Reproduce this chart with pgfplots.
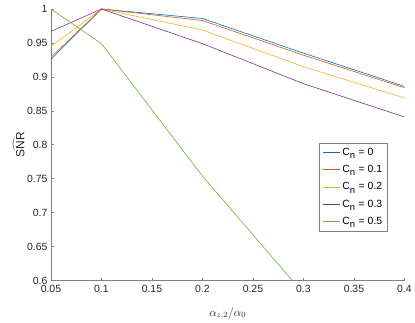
\documentclass[border=0pt]{standalone}
\usepackage{pgfplots}
\pgfplotsset{compat=1.18}
\usepackage{fontspec}
\setmainfont{Liberation Sans}
\definecolor{mblue}{rgb}{0,0.447,0.741}
\definecolor{morange}{rgb}{0.85,0.325,0.098}
\definecolor{myellow}{rgb}{0.929,0.694,0.125}
\definecolor{mpurple}{rgb}{0.494,0.184,0.556}
\definecolor{mgreen}{rgb}{0.466,0.674,0.188}
\definecolor{axgray}{rgb}{0.5,0.5,0.5}
\definecolor{txgray}{rgb}{0.15,0.15,0.15}
\newcommand{\Cn}{C\raisebox{-0.6ex}{\fontsize{9.5}{10}\selectfont n}\hspace{3.5bp}}
\begin{document}
\begin{tikzpicture}[x=1bp,y=1bp]
\path (-51,-41) rectangle (364,281);
\begin{axis}[
  at={(0,0)}, anchor=origin,
  scale only axis, width=354bp, height=272bp,
  xmin=0.05, xmax=0.4, ymin=0.6, ymax=1,
  xtick={0.05,0.1,...,0.4}, ytick={0.6,0.65,...,1},
  xticklabels={0.05,0.1,0.15,0.2,0.25,0.3,0.35,0.4},
  yticklabels={0.6,0.65,0.7,0.75,0.8,0.85,0.9,0.95,1},
  axis lines*=left,
  axis line style={axgray, line width=0.6pt},
  tick style={axgray, line width=0.6pt},
  tick align=inside, major tick length=3bp,
  ticklabel style={font=\fontsize{10.5}{12}\selectfont, text=txgray},
  xticklabel style={yshift=-1.5bp},
  /pgf/number format/assume math mode=true,
  xlabel={$\alpha_{z,2}/\alpha_0$},
  ylabel={$\widehat{\mbox{SNR}}$},
  label style={text=txgray, font=\fontsize{12}{14}\selectfont},
  xlabel style={at={(0.5,-0.085)}, anchor=north},
  ylabel style={at={(-0.065,0.5)}},
  clip=true,
  legend cell align=left,
  legend style={at={(0.952,0.507)}, anchor=north east, draw=axgray,
    font=\fontsize{10.5}{12}\selectfont, row sep=4.5bp,
    inner xsep=3bp, inner ysep=3bp},
  legend image post style={line width=0.8pt},
  every axis plot/.append style={line width=0.6pt},
]
\addplot[color=mblue] coordinates {(0.05,0.926) (0.1,1) (0.2,0.986) (0.3,0.935) (0.4,0.886)};
\addlegendentry{\Cn= 0}
\addplot[color=morange] coordinates {(0.05,0.929) (0.1,1) (0.2,0.983) (0.3,0.932) (0.4,0.884)};
\addlegendentry{\Cn= 0.1}
\addplot[color=myellow] coordinates {(0.05,0.945) (0.1,1) (0.2,0.969) (0.3,0.915) (0.4,0.869)};
\addlegendentry{\Cn= 0.2}
\addplot[color=mpurple] coordinates {(0.05,0.967) (0.1,1) (0.2,0.949) (0.3,0.89) (0.4,0.841)};
\addlegendentry{\Cn= 0.3}
\addplot[color=mgreen] coordinates {(0.05,1) (0.1,0.949) (0.2,0.754) (0.3,0.581) (0.4,0.45)};
\addlegendentry{\Cn= 0.5}
\end{axis}
\end{tikzpicture}
\end{document}
